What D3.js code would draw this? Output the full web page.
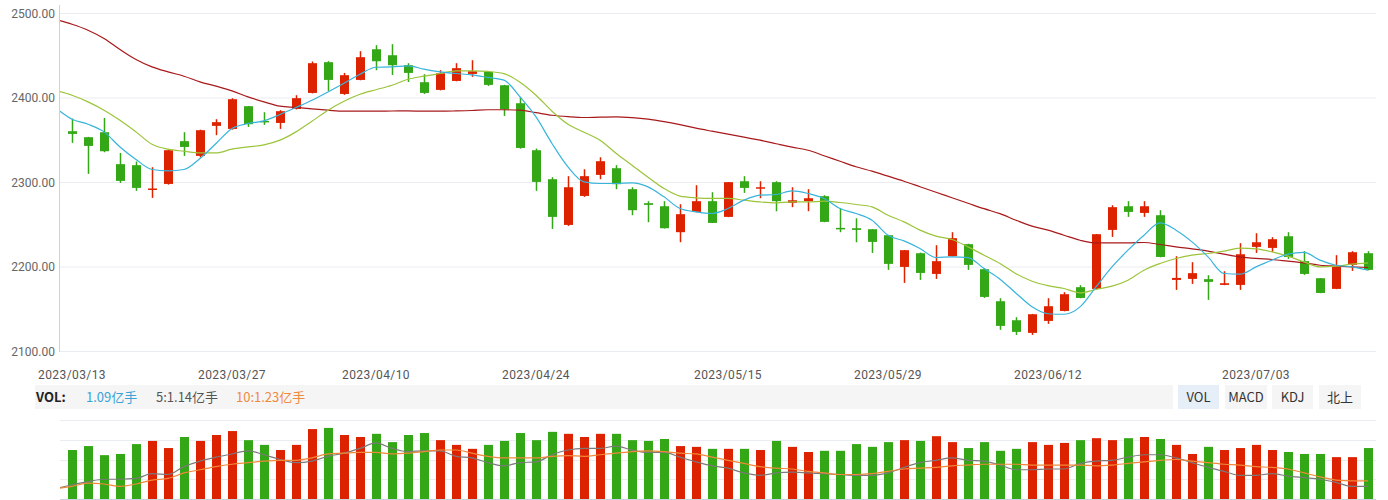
<!DOCTYPE html>
<html><head><meta charset="utf-8">
<script src="https://cdn.jsdelivr.net/npm/d3@7/dist/d3.min.js"></script>
<style>
html,body{margin:0;padding:0;background:#fff;}
svg{display:block;}
text{font-family:"Noto Sans CJK SC","Noto Sans",sans-serif;}
</style></head>
<body><svg id="c" width="1388" height="500"></svg>
<script>
const dates = ["2023/03/13","2023/03/14","2023/03/15","2023/03/16","2023/03/17","2023/03/20","2023/03/21","2023/03/22","2023/03/23","2023/03/24",
"2023/03/27","2023/03/28","2023/03/29","2023/03/30","2023/03/31","2023/04/03","2023/04/04","2023/04/06","2023/04/07",
"2023/04/10","2023/04/11","2023/04/12","2023/04/13","2023/04/14","2023/04/17","2023/04/18","2023/04/19","2023/04/20","2023/04/21",
"2023/04/24","2023/04/25","2023/04/26","2023/04/27","2023/04/28","2023/05/04","2023/05/05","2023/05/08","2023/05/09","2023/05/10","2023/05/11","2023/05/12",
"2023/05/15","2023/05/16","2023/05/17","2023/05/18","2023/05/19","2023/05/22","2023/05/23","2023/05/24","2023/05/25","2023/05/26",
"2023/05/29","2023/05/30","2023/05/31","2023/06/01","2023/06/02","2023/06/05","2023/06/06","2023/06/07","2023/06/08","2023/06/09",
"2023/06/12","2023/06/13","2023/06/14","2023/06/15","2023/06/16","2023/06/19","2023/06/20","2023/06/21","2023/06/26","2023/06/27","2023/06/28","2023/06/29","2023/06/30",
"2023/07/03","2023/07/04","2023/07/05","2023/07/06","2023/07/07","2023/07/10","2023/07/11","2023/07/12"];

const open  = [2360.7,2353.6,2359.5,2321.7,2320.5,2291.2,2298.3,2348.9,2331.5,2367.0,2363.4,2390.3,2372.9,2370.5,2387.1,2406.0,2442.4,2404.8,2421.4,2457.7,2450.6,2438.8,2418.7,2409.6,2420.2,2428.5,2430.9,2415.1,2393.8,2338.2,2303.9,2249.8,2284.1,2309.0,2316.9,2292.1,2275.5,2271.9,2241.2,2265.2,2277.9,2259.3,2301.5,2293.6,2300.4,2275.9,2277.9,2283.8,2246.3,2245.9,2244.7,2237.6,2200.1,2216.3,2191.8,2212.8,2227.0,2197.4,2159.5,2137.0,2122.0,2136.2,2148.0,2176.1,2174.1,2243.9,2271.9,2264.0,2261.3,2184.7,2185.9,2185.6,2178.8,2178.8,2223.8,2222.6,2236.4,2206.9,2186.7,2174.1,2202.5,2216.3];
const high  = [2375.7,2354.0,2376.4,2335.0,2324.8,2318.1,2339.0,2359.5,2362.5,2374.9,2399.8,2390.5,2383.2,2385.6,2403.3,2443.2,2443.6,2429.7,2455.4,2462.5,2463.7,2441.2,2428.2,2432.9,2441.2,2444.7,2431.5,2415.5,2401.3,2340.2,2306.3,2307.5,2315.7,2329.9,2320.5,2294.4,2277.9,2277.9,2274.3,2296.8,2288.5,2300.6,2307.5,2301.5,2301.5,2294.4,2292.1,2285.0,2269.6,2257.7,2245.0,2238.0,2220.0,2217.0,2225.8,2241.2,2227.5,2198.6,2163.1,2140.6,2144.5,2163.1,2170.2,2178.5,2239.0,2273.1,2277.9,2277.9,2267.2,2212.8,2205.7,2190.3,2195.0,2228.2,2240.0,2235.3,2241.2,2218.7,2187.0,2214.0,2218.7,2218.7];
const low   = [2346.9,2310.2,2335.8,2299.5,2290.1,2281.8,2297.5,2331.5,2329.6,2356.0,2362.5,2365.8,2368.2,2363.4,2386.5,2405.5,2408.4,2403.7,2421.0,2432.9,2427.3,2419.0,2404.8,2409.0,2419.8,2425.0,2414.3,2378.8,2340.0,2290.1,2245.1,2248.6,2283.0,2303.9,2292.1,2261.3,2253.0,2245.5,2229.3,2264.8,2252.0,2259.0,2287.7,2281.4,2266.0,2270.8,2266.0,2253.0,2241.2,2229.3,2216.7,2196.6,2181.2,2184.7,2185.9,2212.5,2196.6,2163.4,2125.6,2119.6,2119.6,2132.7,2147.5,2163.0,2173.8,2235.6,2259.3,2259.3,2211.5,2172.9,2180.0,2161.1,2178.5,2172.9,2216.7,2217.9,2209.6,2190.6,2169.0,2173.8,2195.4,2196.0];
const close = [2357.5,2343.3,2337.0,2301.9,2293.6,2292.9,2338.2,2342.1,2361.9,2371.4,2398.6,2369.0,2371.7,2384.4,2399.8,2441.2,2421.4,2427.0,2448.3,2443.5,2438.8,2429.7,2406.0,2429.3,2435.3,2431.7,2415.5,2386.7,2340.9,2300.7,2259.3,2294.4,2307.5,2325.2,2298.0,2267.2,2273.5,2245.9,2262.5,2277.9,2252.2,2300.4,2293.6,2294.4,2277.9,2279.0,2281.4,2253.4,2244.7,2243.9,2229.7,2203.7,2219.9,2193.0,2206.9,2234.1,2202.5,2164.6,2130.3,2123.2,2144.1,2153.6,2167.8,2163.4,2238.8,2270.8,2265.2,2271.9,2211.9,2187.1,2192.7,2182.4,2180.8,2215.1,2229.3,2232.9,2211.9,2191.8,2169.3,2200.1,2217.5,2196.6];

// price moving averages (first value = day before the visible window)
const ma5  = [2387.9,2374.9,2369.0,2359.9,2342.1,2327.2,2315.4,2313.7,2315.4,2328.4,2346.2,2363.9,2369.8,2372.9,2380.5,2388.8,2397.4,2407.2,2417.5,2428.2,2436.4,2436.8,2438.0,2434.1,2430.9,2429.0,2427.3,2424.3,2421.1,2401.3,2377.6,2346.2,2318.5,2300.7,2298.8,2298.8,2299.5,2294.8,2283.0,2269.2,2265.2,2263.3,2269.2,2279.1,2285.0,2285.8,2290.1,2287.0,2281.1,2269.2,2263.3,2255.4,2237.6,2230.9,2221.9,2211.2,2212.0,2211.2,2198.2,2185.6,2169.0,2153.0,2144.7,2144.1,2152.8,2176.5,2200.1,2219.9,2237.6,2252.2,2243.6,2229.7,2212.0,2192.3,2191.5,2200.1,2208.1,2215.2,2217.2,2208.1,2202.1,2200.1,2196.2];
const ma10 = [2408.6,2403.3,2395.4,2385.6,2373.7,2359.9,2345.3,2339.4,2337.0,2335.0,2335.0,2339.4,2342.1,2344.5,2350.1,2359.9,2372.5,2385.6,2396.2,2404.5,2409.8,2415.1,2422.2,2425.8,2429.0,2432.1,2432.1,2431.4,2428.8,2418.7,2403.3,2384.4,2369.0,2359.5,2350.1,2334.7,2320.5,2306.3,2292.9,2283.8,2281.8,2281.1,2281.1,2279.1,2277.0,2275.9,2277.0,2277.0,2277.9,2276.3,2274.0,2271.1,2261.3,2253.4,2243.6,2236.5,2232.5,2223.8,2214.0,2204.1,2192.1,2183.2,2177.9,2174.6,2169.4,2173.4,2177.3,2184.4,2196.2,2204.1,2210.1,2214.0,2216.0,2218.7,2222.3,2221.4,2217.9,2212.8,2206.0,2200.1,2201.0,2203.3,2204.9];
const ma60 = [2492.7,2487.3,2480.2,2470.4,2457.4,2445.6,2436.8,2430.9,2425.8,2419.1,2414.0,2408.4,2401.3,2395.4,2390.3,2388.8,2387.1,2385.6,2384.4,2384.4,2384.4,2384.6,2384.7,2384.4,2384.4,2384.7,2385.2,2386.1,2386.1,2385.6,2382.6,2379.6,2377.9,2376.9,2377.3,2377.6,2376.7,2374.9,2372.0,2368.4,2364.3,2360.7,2357.2,2353.6,2350.1,2345.9,2341.8,2338.2,2331.7,2325.2,2318.7,2313.4,2307.5,2301.5,2295.0,2288.5,2282.0,2275.5,2269.0,2263.1,2255.4,2248.3,2243.6,2237.6,2231.7,2228.5,2228.5,2228.5,2229.0,2226.6,2223.8,2221.4,2218.7,2215.2,2212.0,2210.1,2208.9,2206.9,2204.9,2202.1,2201.0,2200.1,2199.4];

// volume (亿手) and its moving averages (first MA value = day before the window)
const volume = [1.24,1.34,1.11,1.14,1.39,1.47,1.29,1.57,1.47,1.62,1.72,1.49,1.37,1.24,1.37,1.77,1.80,1.62,1.57,1.65,1.44,1.62,1.67,1.49,1.37,1.27,1.37,1.47,1.67,1.49,1.70,1.65,1.57,1.65,1.65,1.49,1.47,1.52,1.34,1.32,1.27,1.27,1.27,1.24,1.47,1.32,1.19,1.22,1.22,1.39,1.32,1.44,1.49,1.47,1.59,1.44,1.29,1.44,1.22,1.27,1.44,1.37,1.42,1.49,1.54,1.49,1.54,1.57,1.52,1.37,1.14,1.32,1.24,1.29,1.37,1.24,1.19,1.14,1.14,1.06,1.06,1.29];
const volMa5  = [1.13,1.18,1.22,1.25,1.25,1.26,1.32,1.31,1.41,1.48,1.53,1.57,1.61,1.56,1.50,1.46,1.48,1.54,1.58,1.64,1.71,1.64,1.60,1.61,1.61,1.54,1.52,1.46,1.42,1.46,1.47,1.56,1.62,1.64,1.64,1.67,1.62,1.59,1.59,1.53,1.47,1.42,1.39,1.33,1.30,1.33,1.34,1.33,1.32,1.31,1.30,1.30,1.33,1.40,1.46,1.49,1.52,1.49,1.48,1.43,1.37,1.37,1.38,1.38,1.45,1.48,1.49,1.53,1.56,1.56,1.52,1.46,1.40,1.35,1.30,1.30,1.32,1.29,1.27,1.25,1.21,1.16,1.16];
const volMa10 = [1.13,1.16,1.20,1.19,1.16,1.19,1.24,1.26,1.33,1.37,1.41,1.44,1.46,1.48,1.49,1.49,1.52,1.57,1.58,1.59,1.59,1.57,1.58,1.60,1.62,1.62,1.58,1.54,1.52,1.52,1.52,1.54,1.55,1.54,1.56,1.58,1.60,1.61,1.60,1.58,1.57,1.53,1.49,1.45,1.41,1.39,1.38,1.35,1.33,1.31,1.31,1.32,1.35,1.38,1.39,1.40,1.42,1.43,1.44,1.44,1.44,1.43,1.43,1.43,1.43,1.42,1.43,1.45,1.47,1.49,1.50,1.48,1.46,1.44,1.43,1.41,1.40,1.38,1.33,1.28,1.24,1.23,1.23];

const priceTicks = [2100,2200,2300,2400,2500];
const dateTicks = ["2023/03/13","2023/03/27","2023/04/10","2023/04/24","2023/05/15","2023/05/29","2023/06/12","2023/07/03"];
const volTicks = [0.5,1.0,1.5,2.0];
const legendItems = [
  {text:"VOL:", color:"#222", bold:true},
  {text:"1.09亿手", color:"#3aa3d6"},
  {text:"5:1.14亿手", color:"#555"},
  {text:"10:1.23亿手", color:"#f08a3c"}
];
const buttons = ["VOL","MACD","KDJ","北上"];

const UP="#dd2200", DOWN="#33a716";
const svg = d3.select("#c");

const x = d3.scalePoint().domain(dates).range([72,1368]);
const step = x.step();
const y = d3.scaleLinear().domain([2100,2500]).range([351.5,13.5]);
const yv = d3.scaleLinear().domain([0,2]).range([499,420]);
const yvl = d3.scaleLinear().domain([1,2]).range([499,420]);

const defs = svg.append("defs");
defs.append("clipPath").attr("id","pclip").append("rect").attr("x",60).attr("y",0).attr("width",1316).attr("height",360);
defs.append("clipPath").attr("id","vclip").append("rect").attr("x",60).attr("y",415).attr("width",1316).attr("height",85);

// price grid
svg.append("g").selectAll("line").data(priceTicks).join("line")
  .attr("x1",60).attr("x2",1376).attr("y1",d=>y(d)).attr("y2",d=>y(d))
  .attr("stroke","#e9ecf1").attr("stroke-width",1);
svg.append("line").attr("x1",59.5).attr("x2",59.5).attr("y1",5).attr("y2",352)
  .attr("stroke","#ccd3de").attr("stroke-width",1);
svg.append("g").selectAll("text").data(priceTicks).join("text")
  .attr("x",55).attr("y",d=>y(d)+4).attr("text-anchor","end")
  .attr("font-size",12).attr("fill","#666").style("font-family","Roboto, sans-serif")
  .text(d=>d3.format(".2f")(d));

// date labels
svg.append("g").selectAll("text").data(dateTicks).join("text")
  .attr("x",d=>x(d)).attr("y",379).attr("text-anchor","middle")
  .attr("font-size",12).attr("fill","#555").style("letter-spacing","0.4px").style("font-family","Roboto, sans-serif")
  .text(d=>d);

// candles
const cg = svg.append("g").attr("clip-path","url(#pclip)");
const idx = d3.range(dates.length);
const col = i => close[i] >= open[i] ? UP : DOWN;
cg.selectAll("line.w").data(idx).join("line").attr("class","w")
  .attr("x1",i=>Math.round(x(dates[i]))+0.5).attr("x2",i=>Math.round(x(dates[i]))+0.5)
  .attr("y1",i=>y(high[i])).attr("y2",i=>y(low[i]))
  .attr("stroke",col).attr("stroke-width",1.5);
cg.selectAll("rect.b").data(idx).join("rect").attr("class","b")
  .attr("x",i=>Math.round(x(dates[i]))-4).attr("width",9)
  .attr("y",i=>y(Math.max(open[i],close[i])))
  .attr("height",i=>Math.max(1.5, Math.abs(y(open[i])-y(close[i]))))
  .attr("fill",col);

// MA lines
function series(arr, sc){
  return arr.map((v,k)=>[ k===0 ? x(dates[0])-step : x(dates[k-1]), sc(v) ]);
}
const line = d3.line().curve(d3.curveMonotoneX);
[[ma60,"#a8191b"],[ma10,"#9cc43a"],[ma5,"#38b4dc"]].forEach(([arr,c])=>{
  cg.append("path").attr("d",line(series(arr,y))).attr("fill","none").attr("stroke",c).attr("stroke-width",1.2);
});

// legend row
svg.append("rect").attr("x",35).attr("y",385).attr("width",1138).attr("height",24).attr("fill","#f5f5f5");
const lx = [36,86,156,236];
svg.append("g").selectAll("text").data(legendItems).join("text")
  .attr("x",(d,i)=>lx[i]).attr("y",402).attr("font-size",13)
  .attr("fill",d=>d.color).attr("font-weight",d=>d.bold?"bold":"normal").text(d=>d.text);
const bx = [1178,1225,1272,1319], bw=[41,42,41,42];
const bgB = svg.append("g").selectAll("g").data(buttons).join("g");
bgB.append("rect").attr("x",(d,i)=>bx[i]).attr("y",385).attr("width",(d,i)=>bw[i]).attr("height",24)
  .attr("fill",(d,i)=>i===0?"#e6eef8":"#f5f5f5");
bgB.append("text").attr("x",(d,i)=>bx[i]+bw[i]/2).attr("y",402).attr("text-anchor","middle")
  .attr("font-size",13).attr("fill","#333").text(d=>d);

// volume panel
svg.append("g").selectAll("line").data(volTicks).join("line")
  .attr("x1",60).attr("x2",1376).attr("y1",d=>Math.round(yv(d))+0.5).attr("y2",d=>Math.round(yv(d))+0.5)
  .attr("stroke","#e9ecf1");
svg.append("line").attr("x1",60).attr("x2",1376).attr("y1",499.5).attr("y2",499.5).attr("stroke","#ccd3de");
const vg = svg.append("g").attr("clip-path","url(#vclip)");
vg.selectAll("rect").data(idx).join("rect")
  .attr("x",i=>Math.round(x(dates[i]))-4).attr("width",9)
  .attr("y",i=>yv(volume[i])).attr("height",i=>yv(0)-yv(volume[i]))
  .attr("fill",col);
[[volMa5,"#7a7a7a"],[volMa10,"#f0883a"]].forEach(([arr,c])=>{
  vg.append("path").attr("d",line(series(arr,yvl))).attr("fill","none").attr("stroke",c).attr("stroke-width",1.2);
});
</script></body></html>
